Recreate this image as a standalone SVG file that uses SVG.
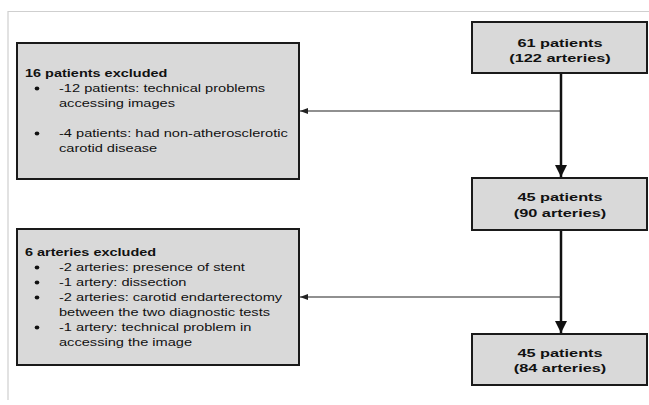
<svg xmlns="http://www.w3.org/2000/svg" width="649" height="405" viewBox="0 0 649 405">
<defs>
<style>
.box{fill:#d9d9d9;stroke:#1a1a1a;stroke-width:2}
.t{font-family:"Liberation Sans",Arial,sans-serif;fill:#111}
.r{font-size:11.5px;font-weight:bold;text-anchor:middle}
.h{font-size:10.2px;font-weight:bold}
.n{font-size:10.3px}
.thick{stroke:#111;stroke-width:2.5;fill:none}
.thin{stroke:#222;stroke-width:1.2;fill:none}
.frame{stroke:#cfcfcf;stroke-width:1.2;fill:none}
</style>
<marker id="big" viewBox="0 0 12 12" markerUnits="userSpaceOnUse" markerWidth="12" markerHeight="12" refX="12" refY="6" orient="auto">
<path d="M0,0 L12,6 L0,12 Z" fill="#111"/>
</marker>
<marker id="small" viewBox="0 0 8 6" markerUnits="userSpaceOnUse" markerWidth="8" markerHeight="6" refX="8" refY="3" orient="auto">
<path d="M0,0 L8,3 L0,6 Z" fill="#222"/>
</marker>
</defs>
<rect width="649" height="405" fill="#fff"/>
<path class="frame" d="M649,11.5 H8 V400"/>

<g id="connectors">
<line class="thick" x1="561" y1="73" x2="561" y2="177" marker-end="url(#big)"/>
<line class="thin" x1="561" y1="111" x2="300" y2="111" marker-end="url(#small)"/>
<line class="thick" x1="561" y1="230" x2="561" y2="333" marker-end="url(#big)"/>
<line class="thin" x1="561" y1="297" x2="300" y2="297" marker-end="url(#small)"/>
</g>

<g id="n61">
<rect class="box" x="472" y="22" width="175" height="51"/>
<text class="t r" transform="translate(560,47) scale(1.42,1)">61 patients</text>
<text class="t r" transform="translate(560,62) scale(1.42,1)">(122 arteries)</text>
</g>

<g id="n45a">
<rect class="box" x="472" y="178" width="175" height="52"/>
<text class="t r" transform="translate(560,201) scale(1.42,1)">45 patients</text>
<text class="t r" transform="translate(560,217) scale(1.42,1)">(90 arteries)</text>
</g>

<g id="n45b">
<rect class="box" x="472" y="334" width="175" height="51"/>
<text class="t r" transform="translate(560,357) scale(1.42,1)">45 patients</text>
<text class="t r" transform="translate(560,372) scale(1.42,1)">(84 arteries)</text>
</g>

<g id="excl16">
<rect class="box" x="17" y="43" width="282" height="136"/>
<text class="t h" transform="translate(25,77) scale(1.42,1)">16 patients excluded</text>
<ellipse cx="37" cy="88.5" rx="2.3" ry="1.9" fill="#111"/>
<text class="t n" transform="translate(59,92) scale(1.42,1)">-12 patients: technical problems</text>
<text class="t n" transform="translate(59,107) scale(1.42,1)">accessing images</text>
<ellipse cx="37" cy="133.5" rx="2.3" ry="1.9" fill="#111"/>
<text class="t n" transform="translate(59,137) scale(1.42,1)">-4 patients: had non-atherosclerotic</text>
<text class="t n" transform="translate(59,152) scale(1.42,1)">carotid disease</text>
</g>

<g id="excl6">
<rect class="box" x="17" y="229" width="282" height="136"/>
<text class="t h" transform="translate(25,256) scale(1.42,1)">6 arteries excluded</text>
<ellipse cx="37" cy="267.5" rx="2.3" ry="1.9" fill="#111"/>
<text class="t n" transform="translate(59,271) scale(1.42,1)">-2 arteries: presence of stent</text>
<ellipse cx="37" cy="282.5" rx="2.3" ry="1.9" fill="#111"/>
<text class="t n" transform="translate(59,286) scale(1.42,1)">-1 artery: dissection</text>
<ellipse cx="37" cy="297.5" rx="2.3" ry="1.9" fill="#111"/>
<text class="t n" transform="translate(59,301) scale(1.42,1)">-2 arteries: carotid endarterectomy</text>
<text class="t n" transform="translate(59,316) scale(1.42,1)">between the two diagnostic tests</text>
<ellipse cx="37" cy="327.5" rx="2.3" ry="1.9" fill="#111"/>
<text class="t n" transform="translate(59,331) scale(1.42,1)">-1 artery: technical problem in</text>
<text class="t n" transform="translate(59,346) scale(1.42,1)">accessing the image</text>
</g>
</svg>
